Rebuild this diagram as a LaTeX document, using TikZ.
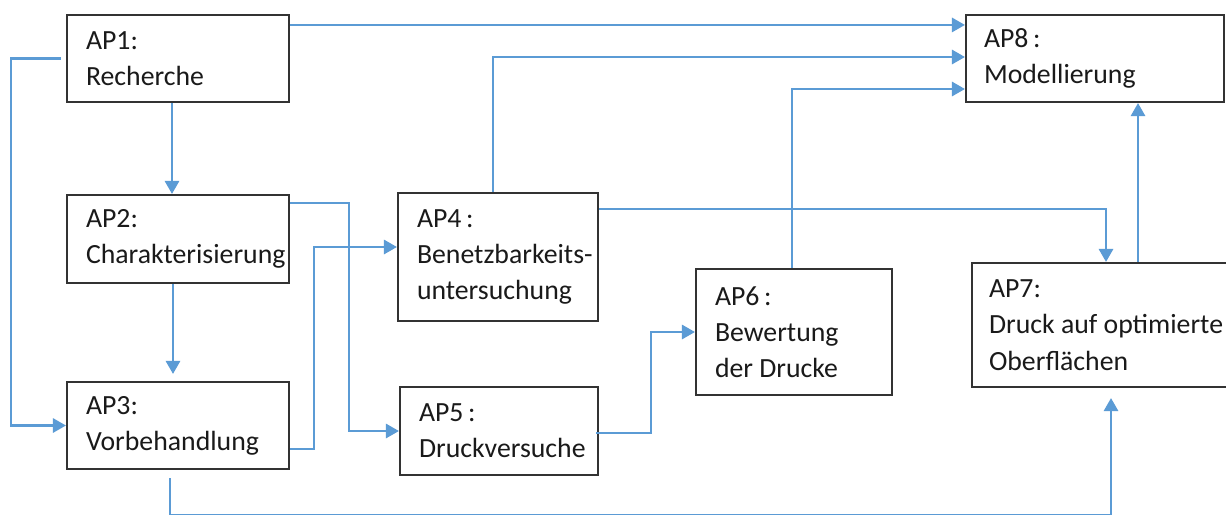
\documentclass[tikz,border=0pt]{standalone}
\usepackage{fontspec}
\setmainfont{Carlito}
\usetikzlibrary{arrows.meta,calc}
\definecolor{lineblue}{HTML}{5B9BD5}
\definecolor{boxgray}{HTML}{333333}
\definecolor{txtc}{HTML}{1A1A1A}
\newcommand{\ind}{\hspace*{0.38cm}}
\tikzset{
  apbox/.style={draw=boxgray, line width=1.2pt, fill=white, rectangle, inner sep=0pt,
    align=left, text=txtc, font=\fontsize{15.8pt}{20.6pt}\selectfont,
    execute at begin node={\spaceskip=0pt\xspaceskip=0pt}},
  arr/.style={draw=lineblue, line width=1.5pt, -{Triangle[length=7.4pt,width=8pt]}},
}
\begin{document}
\begin{tikzpicture}[x=0.02cm, y=-0.02cm]
\useasboundingbox (0,0) rectangle (1226,514);
\fill[white] (0,0) rectangle (1226,514);
\coordinate (bot) at (0,515.5);

\node[apbox, minimum width=4.44cm, text width=4.44cm, minimum height=1.74cm] (AP1) at (178,58.5) {\ind AP1:\\\ind Recherche};
\node[apbox, minimum width=4.44cm, text width=4.44cm, minimum height=1.76cm] (AP2) at (178,239) {\ind AP2:\\\ind Charakterisierung};
\node[apbox, minimum width=4.44cm, text width=4.44cm, minimum height=1.74cm] (AP3) at (178,425.5) {\ind AP3:\\\ind Vorbehandlung};
\node[apbox, minimum width=4.00cm, text width=4.00cm, minimum height=2.56cm] (AP4) at (498,257) {\ind AP4\,:\\\ind Benetzbarkeits-\\\ind untersuchung};
\node[apbox, minimum width=3.96cm, text width=3.96cm, minimum height=1.76cm] (AP5) at (499,431) {\ind AP5\,:\\\ind Druckversuche};
\node[apbox, minimum width=3.92cm, text width=3.92cm, minimum height=2.52cm] (AP6) at (794,332) {\ind AP6\,:\\\ind Bewertung\\\ind der Drucke};
\node[apbox, minimum width=5.76cm, text width=5.76cm, minimum height=2.48cm] (AP7) at (1116,325) {\hspace*{0.34cm}AP7:\\\hspace*{0.34cm}Druck auf optimierte\\\hspace*{0.34cm}Oberflächen};
\node[apbox, minimum width=5.16cm, text width=5.16cm, minimum height=1.74cm] (AP8) at (1095,58.5) {\hspace*{0.36cm}AP8\,:\\\hspace*{0.36cm}Modellierung};

% AP1 -> AP8
\coordinate (s1) at ($(AP1.north east)+(0,11)$);
\draw[arr] (s1) -- (s1 -| AP8.west);
% AP1 -> AP3 (left loop)
\draw[arr] ($(AP1.west)+(-5,0)$) -- ++(-50,0) |- (AP3.west);
% AP1 -> AP2
\draw[arr] ($(AP1.south)+(-6,0)$) -- ($(AP2.north)+(-6,0)$);
% AP2 -> AP5
\coordinate (s4) at ($(AP2.north east)+(0,9)$);
\draw[arr] (s4) -- ++(59,0) |- (AP5.west);
% AP3 -> AP4
\coordinate (s5) at ($(AP3.south east)+(0,-21)$);
\coordinate (t5) at ($(AP4.west)+(0,-10)$);
\draw[arr] (s5) -- ++(24,0) |- (t5);
% AP2 -> AP3
\draw[arr] ($(AP2.south)+(-5,0)$) -- ($(AP3.north)+(-5,-7)$);
% AP4 -> AP8
\coordinate (s7) at ($(AP4.north)+(-5,0)$);
\draw[arr] (s7) |- ($(AP8.west)+(0,-1.5)$);
% AP4 -> AP7
\coordinate (s8) at ($(AP4.north east)+(0,17)$);
\coordinate (t8) at ($(AP7.north)+(-10,0)$);
\draw[arr] (s8) -| (t8);
% AP5 -> AP6
\draw[arr] ($(AP5.east)+(-3,2)$) -- ++(55,0) |- (AP6.west);
% AP6 -> AP8
\draw[arr] ($(AP6.north)+(-2,0)$) |- ($(AP8.west)+(0,30.5)$);
% AP7 -> AP8
\coordinate (s11) at ($(AP7.north)+(22,0)$);
\draw[arr] (s11) -- (s11 |- AP8.south);
% AP3 -> AP7 (bottom)
\coordinate (s12) at ($(AP3.south)+(-8,8)$);
\coordinate (t12) at ($(AP7.south)+(-5,10)$);
\draw[arr] (s12) -- (s12 |- bot) -| (t12);
\end{tikzpicture}
\end{document}
